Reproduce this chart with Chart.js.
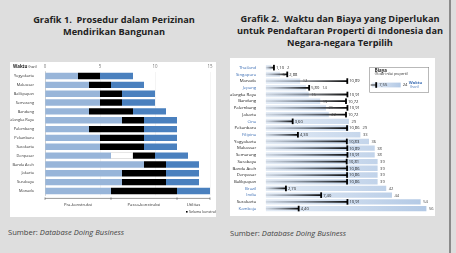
<!DOCTYPE html>
<html>
<head>
<meta charset="utf-8">
<script src="https://cdn.jsdelivr.net/npm/chart.js@4.4.0/dist/chart.umd.min.js"></script>
<style>
  body { margin: 0; width: 456px; height: 253px; background: #dedede; position: relative; overflow: hidden; font-family: "Open Sans", sans-serif; }
  .title { position: absolute; font-weight: bold; font-size: 9.2px; line-height: 12px; text-align: center; color: #222; }
  .src { position: absolute; font-size: 7.6px; color: #444; }
  .panel { position: absolute; background: #fff; }
  #frame { position: absolute; left: 449px; top: 0; width: 1.5px; height: 253px; background: #8a8a8a; }
</style>
</head>
<body>
<div class="title" style="left:0;top:14px;width:228px;">Grafik 1.&nbsp; Prosedur dalam Perizinan<br>Mendirikan Bangunan</div>
<div class="title" style="left:228px;top:13px;width:224px;">Grafik 2.&nbsp; Waktu dan Biaya yang Diperlukan<br>untuk Pendaftaran Properti di Indonesia dan<br>Negara-negara Terpilih</div>

<div class="panel" style="left:10px;top:62px;width:206px;height:155px;">
  <canvas id="izinChart" width="206" height="155"></canvas>
</div>
<div class="panel" style="left:230px;top:58px;width:205px;height:158px;">
  <canvas id="propertiChart" width="205" height="158"></canvas>
</div>

<div class="src" style="left:8px;top:227px;">Sumber: <i>Database Doing Business</i></div>
<div class="src" style="left:230px;top:228px;">Sumber: <i>Database Doing Business</i></div>
<div id="frame"></div>

<script>
// ---- Grafik 1 data (jumlah prosedur) ----
const kotaIzin = ["Yogyakarta", "Makassar", "Balikpapan", "Semarang", "Bandung", "Palangka Raya", "Palembang",
  "Pekanbaru", "Surakarta", "Denpasar", "Banda Aceh", "Jakarta", "Surabaya", "Manado"];
const praKonstruksi = [3, 4, 5, 5, 4, 7, 4, 5, 5, 6, 9, 7, 7, 6];
const paralel = [0, 0, 0, 0, 0, 0, 0, 0, 0, 2, 0, 0, 0, 0];
const selamaKonstruksi = [2, 2, 2, 2, 4, 2, 5, 4, 4, 2, 2, 4, 4, 6];
const pascaKonstruksi = [3, 3, 3, 3, 3, 3, 3, 3, 3, 3, 3, 3, 3, 3];
const xTicksIzin = [0, 5, 10, 15];
const tahapBatas = [0, 6, 12, 15];
const tahapLabel = ["Pra-konstruksi", "Pasca-konstruksi", "Utilitas"];

// ---- Grafik 2 data ----
const lokasi = ["Thailand", "Singapura", "Manado", "Jepang", "Palangka Raya", "Bandung", "Palembang", "Jakarta",
  "Cina", "Pekanbaru", "Filipina", "Yogyakarta", "Makassar", "Semarang", "Surabaya", "Banda Aceh", "Denpasar",
  "Balikpapan", "Brazil", "India", "Surakarta", "Kamboja"];
const negaraLain = ["Thailand", "Singapura", "Jepang", "Cina", "Filipina", "Brazil", "India", "Kamboja"];
const waktuHari = [2, 5, 12, 14, 15, 19, 21, 22, 29, 29, 33, 36, 38, 38, 39, 39, 39, 39, 42, 44, 54, 56];
const biayaPersen = [1.10, 2.88, 10.89, 5.80, 10.91, 10.72, 10.91, 10.72, 3.60, 10.86, 4.30, 10.83, 10.89, 10.91,
  10.81, 10.86, 10.86, 10.86, 2.70, 7.40, 10.91, 4.40];
const contohBiaya = 7.55;
const contohWaktu = 24;

const FONT = "'Open Sans', sans-serif";
const koma = (v) => v.toFixed(2).replace(".", ",");

// bracket + labels for chart 1
const izinExtras = {
  id: "izinExtras",
  afterDraw(chart) {
    const { ctx, chartArea } = chart;
    const x = chart.scales.x;
    ctx.save();
    ctx.fillStyle = "#222";
    ctx.textBaseline = "middle";
    ctx.font = `bold 4.4px ${FONT}`;
    ctx.fillText("Waktu", 3, 5);
    const w = ctx.measureText("Waktu ").width;
    ctx.font = `3.4px ${FONT}`;
    ctx.fillText("(hari)", 3 + w, 5.2);

    // stage bracket below the bars
    const yb = chartArea.bottom + 3;
    ctx.strokeStyle = "#555";
    ctx.lineWidth = 0.6;
    ctx.beginPath();
    ctx.moveTo(x.getPixelForValue(tahapBatas[0]), yb);
    ctx.lineTo(x.getPixelForValue(tahapBatas[tahapBatas.length - 1]), yb);
    tahapBatas.forEach((b) => {
      const px = x.getPixelForValue(b);
      ctx.moveTo(px, yb - 1);
      ctx.lineTo(px, yb + 1.5);
    });
    ctx.stroke();
    ctx.font = `4.2px ${FONT}`;
    ctx.textAlign = "center";
    ctx.fillStyle = "#333";
    tahapLabel.forEach((t, i) => {
      const mid = (tahapBatas[i] + tahapBatas[i + 1]) / 2;
      ctx.fillText(t, x.getPixelForValue(mid), yb + 6);
    });

    // note for the black segment
    ctx.textAlign = "left";
    ctx.fillStyle = "#000";
    ctx.fillRect(176, 149, 1.6, 1.6);
    ctx.font = `3.6px ${FONT}`;
    ctx.fillStyle = "#333";
    ctx.fillText("Selama konstruksi", 179, 150);
    ctx.restore();
  },
};

new Chart(document.getElementById("izinChart"), {
  type: "bar",
  data: {
    labels: kotaIzin,
    datasets: [
      { label: "Pra-konstruksi", data: praKonstruksi, backgroundColor: "#98b5d9" },
      { label: "Paralel", data: paralel, backgroundColor: "#ffffff", borderColor: "#9a9a9a", borderWidth: 0.5 },
      { label: "Selama konstruksi", data: selamaKonstruksi, backgroundColor: "#000000" },
      { label: "Pasca-konstruksi", data: pascaKonstruksi, backgroundColor: "#4a80be" },
    ],
  },
  options: {
    indexAxis: "y",
    responsive: false,
    animation: false,
    layout: { padding: { left: 0, right: 6, top: 0, bottom: 21.6 } },
    datasets: { bar: { barPercentage: 0.72, categoryPercentage: 1 } },
    plugins: { legend: { display: false }, tooltip: { enabled: false } },
    scales: {
      x: {
        position: "top",
        stacked: true,
        min: 0,
        max: 15,
        afterBuildTicks: (s) => { s.ticks = xTicksIzin.map((v) => ({ value: v })); },
        ticks: { font: { size: 4.4, family: FONT }, color: "#777", padding: 2 },
        grid: { color: "#ececec", lineWidth: 0.6, drawTicks: false },
        border: { display: false },
        afterFit: (s) => { s.height = 9.6; },
      },
      y: {
        stacked: true,
        ticks: { font: { size: 3.9, family: FONT }, color: "#333", padding: 3, autoSkip: false },
        grid: { display: false },
        border: { color: "#b5b5b5", width: 0.6 },
        afterFit: (s) => { s.width = 35; },
      },
    },
  },
  plugins: [izinExtras],
});

// cost ticks, value labels and legend for chart 2
const propertiExtras = {
  id: "propertiExtras",
  afterDatasetsDraw(chart) {
    const { ctx } = chart;
    const x = chart.scales.x;
    const x2 = chart.scales.x2;
    const y = chart.scales.y;
    ctx.save();
    ctx.textBaseline = "middle";
    lokasi.forEach((_, i) => {
      const py = y.getPixelForValue(i);
      const pt = x2.getPixelForValue(biayaPersen[i]);
      ctx.fillStyle = "#000";
      ctx.fillRect(pt - 0.9, py - 2.8, 1.8, 5.6);
      ctx.font = `4.1px ${FONT}`;
      ctx.fillStyle = "#222";
      const costTxt = koma(biayaPersen[i]);
      ctx.fillText(costTxt, pt + 2, py + 0.2);
      const costEnd = pt + 2 + ctx.measureText(costTxt).width;
      let pw = x.getPixelForValue(waktuHari[i]) + 2.5;
      if (pw > pt - 3 && pw < costEnd + 1) pw = costEnd + 3;
      ctx.fillStyle = "#444";
      ctx.fillText(String(waktuHari[i]), pw, py + 0.2);
    });

    // legend box
    const bx = 139.7, by = 9.3, bw = 59, bh = 25;
    ctx.fillStyle = "#fff";
    ctx.fillRect(bx, by, bw, bh);
    ctx.strokeStyle = "#8a8a8a";
    ctx.lineWidth = 0.6;
    ctx.strokeRect(bx, by, bw, bh);
    ctx.fillStyle = "#222";
    ctx.font = `bold 4.4px ${FONT}`;
    ctx.fillText("Biaya", bx + 5, by + 3);
    ctx.font = `3.4px ${FONT}`;
    ctx.fillText("(% dari nilai properti)", bx + 5, by + 6.3);
    const sy = by + 17.7;
    const g = ctx.createLinearGradient(bx + 2, 0, bx + 31, 0);
    g.addColorStop(0, "#e2eaf5");
    g.addColorStop(1, "#b3c9e5");
    ctx.fillStyle = g;
    ctx.fillRect(bx + 2, sy - 2.4, 29, 4.8);
    ctx.fillStyle = "#333";
    ctx.fillRect(bx + 1, sy - 0.5, 5.5, 1);
    ctx.fillStyle = "#000";
    ctx.fillRect(bx + 5.6, sy - 2.8, 1.8, 5.6);
    ctx.fillStyle = "#222";
    ctx.font = `4.1px ${FONT}`;
    ctx.fillText(koma(contohBiaya), bx + 9.5, sy);
    ctx.fillText(String(contohWaktu), bx + 33, sy);
    ctx.fillStyle = "#3d6fb5";
    ctx.font = `bold 4.1px ${FONT}`;
    ctx.fillText("Waktu", bx + 39, sy - 1.8);
    ctx.font = `3.6px ${FONT}`;
    ctx.fillText("(hari)", bx + 40.5, sy + 2.3);
    ctx.restore();
  },
};

new Chart(document.getElementById("propertiChart"), {
  type: "bar",
  data: {
    labels: lokasi,
    datasets: [
      {
        label: "Biaya (% dari nilai properti)",
        data: biayaPersen,
        xAxisID: "x2",
        grouped: false,
        barThickness: 1.1,
        backgroundColor: (c) => {
          const ch = c.chart;
          if (!ch.chartArea || c.dataIndex === undefined) return "#333";
          const x0 = ch.scales.x2.getPixelForValue(0);
          const x1 = ch.scales.x2.getPixelForValue(biayaPersen[c.dataIndex]);
          const g = ch.ctx.createLinearGradient(x0, 0, x1, 0);
          g.addColorStop(0, "rgba(90,100,115,0.15)");
          g.addColorStop(1, "rgba(10,10,10,1)");
          return g;
        },
      },
      {
        label: "Waktu (hari)",
        data: waktuHari,
        xAxisID: "x",
        grouped: false,
        barPercentage: 0.8,
        categoryPercentage: 1,
        backgroundColor: (c) => {
          const ch = c.chart;
          if (!ch.chartArea) return "#c4d6ec";
          const g = ch.ctx.createLinearGradient(ch.chartArea.left, 0, ch.chartArea.right, 0);
          g.addColorStop(0, "#e3ebf5");
          g.addColorStop(1, "#b0c7e4");
          return g;
        },
      },
    ],
  },
  options: {
    indexAxis: "y",
    responsive: false,
    animation: false,
    layout: { padding: { left: 0, right: 0, top: 6.3, bottom: 2.9 } },
    plugins: { legend: { display: false }, tooltip: { enabled: false } },
    scales: {
      x: { min: 0, max: 59, display: false },
      x2: { min: 0, max: 22.6, display: false },
      y: {
        ticks: {
          font: { size: 4.3, family: FONT },
          color: (c) => (negaraLain.includes(lokasi[c.index]) ? "#3d6fb5" : "#222"),
          padding: 1.5,
          autoSkip: false,
        },
        grid: { display: false },
        border: { display: false },
        afterFit: (s) => { s.width = 35.7; },
      },
    },
  },
  plugins: [propertiExtras],
});
</script>
</body>
</html>
